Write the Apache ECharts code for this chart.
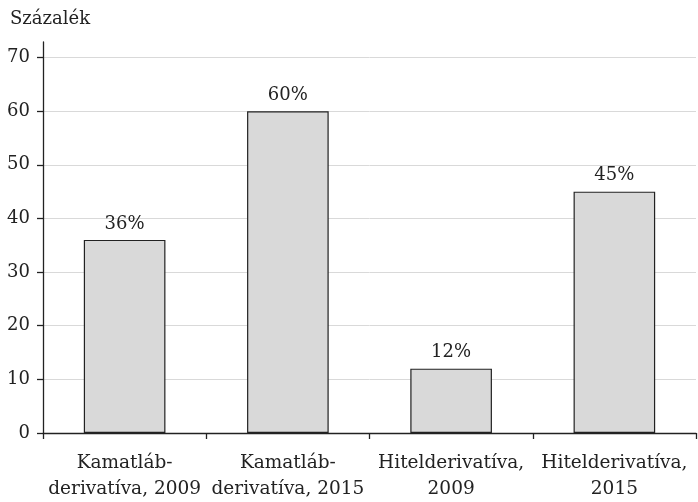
<!DOCTYPE html>
<html><head><meta charset="utf-8">
<script src="https://cdn.jsdelivr.net/npm/echarts@6/dist/echarts.min.js"></script>
<style>html,body{margin:0;padding:0;background:#fff}#c{width:698px;height:502px}</style>
</head><body><div id="c"></div>
<script>
const categories = ["Kamatláb-\nderivatíva, 2009", "Kamatláb-\nderivatíva, 2015", "Hitelderivatíva,\n2009", "Hitelderivatíva,\n2015"];
const values = [36, 60, 12, 45];
const yTicks = [0, 10, 20, 30, 40, 50, 60, 70];
const yName = "Százalék";

const FONT = "DejaVu Serif";
const chart = echarts.init(document.getElementById('c'));
chart.setOption({
  animation: false,
  title: { text: yName, left: 5, top: 5, textStyle: { fontFamily: FONT, fontSize: 18, fontWeight: 'normal', color: '#222' } },
  grid: { left: 43, right: 2, top: 42, bottom: 65 },
  xAxis: {
    type: 'category', data: categories,
    axisLine: { lineStyle: { color: '#222', width: 1.3 } },
    axisTick: { show: true, length: 6, lineStyle: { color: '#222', width: 1.3 } },
    axisLabel: { fontFamily: FONT, fontSize: 18.5, color: '#222', lineHeight: 26, margin: 17, interval: 0 }
  },
  yAxis: {
    type: 'value', min: 0, max: 72.9,
    axisLine: { show: true, lineStyle: { color: '#222', width: 1.3 } },
    axisTick: { show: true, length: 6, inside: false, customValues: yTicks, lineStyle: { color: '#222', width: 1.3 } },
    axisLabel: { fontFamily: FONT, fontSize: 18, color: '#222', margin: 13, customValues: yTicks },
    splitLine: { show: true, lineStyle: { color: '#d9d9d9', width: 1 } }
  },
  series: [{
    type: 'bar', data: values, barWidth: '50%',
    itemStyle: { color: '#d9d9d9', borderColor: '#222', borderWidth: 1.2 },
    label: { show: true, position: 'top', distance: 7, formatter: '{c}%', fontFamily: FONT, fontSize: 18, color: '#222' }
  }]
});
</script></body></html>
